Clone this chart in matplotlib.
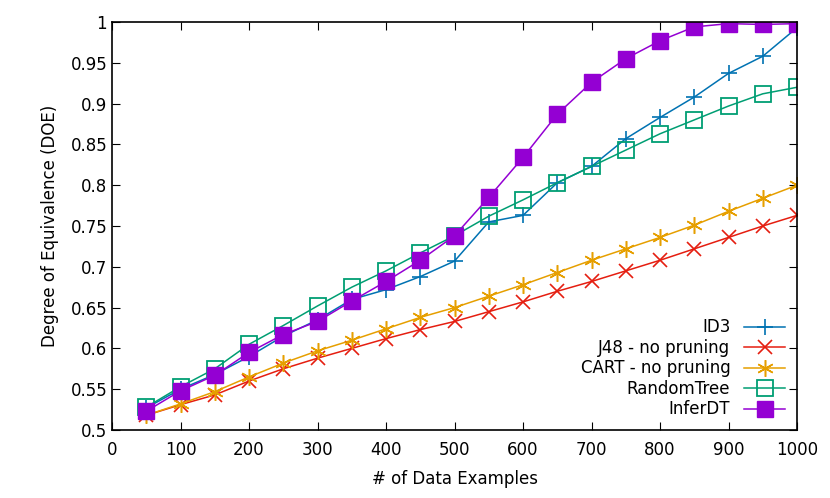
import matplotlib
matplotlib.use("Agg")
import matplotlib.pyplot as plt

x = list(range(50, 1001, 50))
id3 = [0.527,0.55,0.568,0.59,0.615,0.635,0.66,0.672,0.688,0.707,0.755,0.763,0.803,0.823,0.857,0.883,0.908,0.937,0.958,0.993]
j48 = [0.518,0.531,0.543,0.56,0.575,0.588,0.6,0.612,0.623,0.633,0.645,0.657,0.67,0.682,0.695,0.708,0.722,0.736,0.75,0.763]
cart = [0.518,0.532,0.547,0.565,0.582,0.597,0.61,0.624,0.638,0.65,0.664,0.678,0.693,0.708,0.722,0.736,0.751,0.768,0.784,0.8]
rt = [0.528,0.553,0.575,0.605,0.628,0.652,0.675,0.695,0.717,0.738,0.762,0.782,0.803,0.823,0.843,0.863,0.88,0.897,0.912,0.92]
inf = [0.523,0.548,0.567,0.595,0.617,0.633,0.658,0.682,0.708,0.738,0.785,0.834,0.887,0.926,0.955,0.977,0.994,0.998,0.997,0.998]
labels = ["ID3", "J48 - no pruning", "CART - no pruning", "RandomTree", "InferDT"]
xticks = list(range(0, 1001, 100))
yticks = [0.5,0.55,0.6,0.65,0.7,0.75,0.8,0.85,0.9,0.95,1]

fig = plt.figure(figsize=(8.3, 4.98), dpi=100)
ax = fig.add_axes([112/830, 1-430/498, (797-112)/830, (430-22)/498])
ax.plot(x, id3, color="#0072b2", marker="+", ms=12, mew=1.2, lw=1.1, label=labels[0])
ax.plot(x, j48, color="#e51e10", marker="x", ms=10, mew=1.2, lw=1.1, label=labels[1])
ax.plot(x, cart, color="#e69f00", marker=(6, 2, 0), ms=12, mew=1.1, lw=1.1, label=labels[2])
ax.plot(x, rt, color="#009e73", marker="s", ms=11, mfc="none", mew=1.3, lw=1.1, label=labels[3])
ax.plot(x, inf, color="#9400d3", marker="s", ms=11, lw=1.1, label=labels[4])
ax.set_xlim(0, 1000); ax.set_ylim(0.5, 1)
ax.set_xticks(xticks); ax.set_yticks(yticks)
ax.set_xticklabels([str(v) for v in xticks])
ax.set_yticklabels(["0.5","0.55","0.6","0.65","0.7","0.75","0.8","0.85","0.9","0.95","1"])
ax.tick_params(direction="in", top=True, right=True, length=6, labelsize=12)
ax.tick_params(axis="x", pad=8)
ax.set_xlabel("# of Data Examples", fontsize=12, labelpad=8)
ax.set_ylabel("Degree of Equivalence (DOE)", fontsize=12, labelpad=8)
for s in ax.spines.values():
    s.set_linewidth(1.2)
ax.legend(loc="lower right", frameon=False, markerfirst=False, fontsize=12, handlelength=2.5,
          labelspacing=0.15, borderaxespad=0.3)
fig.savefig("out.png", dpi=100)
